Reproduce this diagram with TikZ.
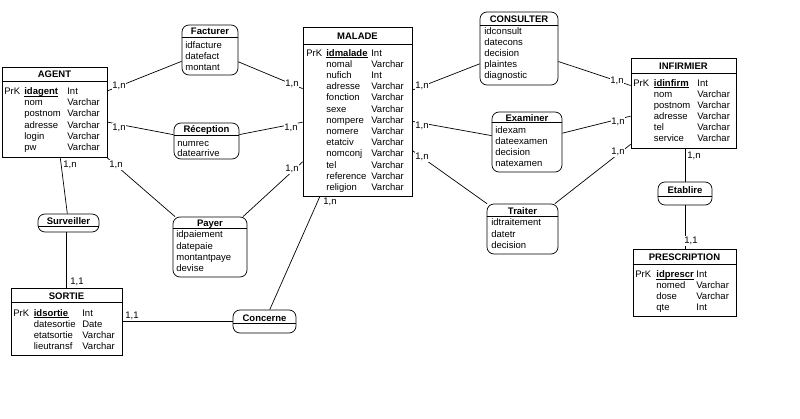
\documentclass[tikz,border=0pt]{standalone}
\usepackage{fontspec}
\setmainfont{Liberation Sans}

\tikzset{
  entity/.style={draw, rectangle, inner sep=0pt},
  assoc/.style={draw, rectangle, rounded corners=7pt, inner sep=0pt},
  head/.style={inner sep=0pt, text height=7pt, text depth=0pt, font=\fontsize{9.5}{11}\selectfont\bfseries},
  attr/.style={anchor=base west, inner sep=0pt, font=\fontsize{9.5}{11}\selectfont},
  key/.style={attr, font=\fontsize{9.5}{11}\selectfont\bfseries},
  card/.style={fill=white, inner sep=0.8pt, font=\fontsize{9.5}{11}\selectfont}
}

\begin{document}
\begin{tikzpicture}[x=1pt, y=-1pt, line width=0.7pt]
    \useasboundingbox (0,0) rectangle (800,419);
    % Entity AGENT
    \node[entity, minimum width=105pt, minimum height=90pt] (agent) at (54.5,112) {};
    \node[head] (agentT) at (54.5,74.5) {AGENT};
    \draw ([yshift=-15pt]agent.north west) -- ([yshift=-15pt]agent.north east);
    \node[attr] (agentP) at (4,94.5) {PrK};
    \node[key] (agentK) at (24,94.5) {idagent};
    \draw ([yshift=-1.5pt]agentK.base west) -- ([yshift=-1.5pt]agentK.base east);
    \node[attr] (agentKt) at (67,94.5) {Int};
    \foreach \nm/\ty [count=\i] in {nom/Varchar, postnom/Varchar, adresse/Varchar, login/Varchar, pw/Varchar} {
        \node[attr] (agentA\i) at (24,{94.5+11.2*\i}) {\nm};
        \node[attr] (agentB\i) at (67,{94.5+11.2*\i}) {\ty};
    }
    % Entity MALADE
    \node[entity, minimum width=109pt, minimum height=169pt] (malade) at (357.5,111.5) {};
    \node[head] (maladeT) at (357.5,36) {MALADE};
    \draw ([yshift=-18pt]malade.north west) -- ([yshift=-18pt]malade.north east);
    \node[attr] (maladeP) at (306,56.2) {PrK};
    \node[key] (maladeK) at (326,56.2) {idmalade};
    \draw ([yshift=-1.5pt]maladeK.base west) -- ([yshift=-1.5pt]maladeK.base east);
    \node[attr] (maladeKt) at (371,56.2) {Int};
    \foreach \nm/\ty [count=\i] in {nomal/Varchar, nufich/Int, adresse/Varchar, fonction/Varchar, sexe/Varchar, nompere/Varchar, nomere/Varchar, etatciv/Varchar, nomconj/Varchar, tel/Varchar, reference/Varchar, religion/Varchar} {
        \node[attr] (maladeA\i) at (326,{56.2+11.2*\i}) {\nm};
        \node[attr] (maladeB\i) at (371,{56.2+11.2*\i}) {\ty};
    }
    % Entity INFIRMIER
    \node[entity, minimum width=105pt, minimum height=90pt] (infirmier) at (683.5,103) {};
    \node[head] (infirmierT) at (683.5,66) {INFIRMIER};
    \draw ([yshift=-16pt]infirmier.north west) -- ([yshift=-16pt]infirmier.north east);
    \node[attr] (infirmierP) at (633,86.2) {PrK};
    \node[key] (infirmierK) at (653.5,86.2) {idinfirm};
    \draw ([yshift=-1.5pt]infirmierK.base west) -- ([yshift=-1.5pt]infirmierK.base east);
    \node[attr] (infirmierKt) at (697,86.2) {Int};
    \foreach \nm/\ty [count=\i] in {nom/Varchar, postnom/Varchar, adresse/Varchar, tel/Varchar, service/Varchar} {
        \node[attr] (infirmierA\i) at (653.5,{86.2+11.1*\i}) {\nm};
        \node[attr] (infirmierB\i) at (697,{86.2+11.1*\i}) {\ty};
    }
    % Entity PRESCRIPTION
    \node[entity, minimum width=103pt, minimum height=67pt] (prescription) at (684.5,282.5) {};
    \node[head] (prescriptionT) at (684.5,257.5) {PRESCRIPTION};
    \draw ([yshift=-16pt]prescription.north west) -- ([yshift=-16pt]prescription.north east);
    \node[attr] (prescriptionP) at (635,277.5) {PrK};
    \node[key] (prescriptionK) at (656,277.5) {idprescr};
    \draw ([yshift=-1.5pt]prescriptionK.base west) -- ([yshift=-1.5pt]prescriptionK.base east);
    \node[attr] (prescriptionKt) at (696,277.5) {Int};
    \foreach \nm/\ty [count=\i] in {nomed/Varchar, dose/Varchar, qte/Int} {
        \node[attr] (prescriptionA\i) at (656,{277.5+11*\i}) {\nm};
        \node[attr] (prescriptionB\i) at (696,{277.5+11*\i}) {\ty};
    }
    % Entity SORTIE
    \node[entity, minimum width=111pt, minimum height=67pt] (sortie) at (66.5,321.5) {};
    \node[head] (sortieT) at (66.5,296) {SORTIE};
    \draw ([yshift=-15pt]sortie.north west) -- ([yshift=-15pt]sortie.north east);
    \node[attr] (sortieP) at (13,316.2) {PrK};
    \node[key] (sortieK) at (33.5,316.2) {idsortie};
    \draw ([yshift=-1.5pt]sortieK.base west) -- ([yshift=-1.5pt]sortieK.base east);
    \node[attr] (sortieKt) at (82,316.2) {Int};
    \foreach \nm/\ty [count=\i] in {datesortie/Date, etatsortie/Varchar, lieutransf/Varchar} {
        \node[attr] (sortieA\i) at (33.5,{316.2+11*\i}) {\nm};
        \node[attr] (sortieB\i) at (82,{316.2+11*\i}) {\ty};
    }

    % Associations
    \node[assoc, minimum width=56pt, minimum height=50pt] (facturer) at (210,50) {};
    \node[head] (facturerT) at (210,31.5) {Facturer};
    \draw ([yshift=-13pt]facturer.north west) -- ([yshift=-13pt]facturer.north east);
    \foreach \nm [count=\i from 0] in {idfacture, datefact, montant}
        \node[attr] (facturerA\i) at (185,{48.5+10.8*\i}) {\nm};

    \node[assoc, minimum width=65pt, minimum height=36pt] (reception) at (206.5,141) {};
    \node[head] (receptionT) at (206.5,129.5) {Réception};
    \draw ([yshift=-13pt]reception.north west) -- ([yshift=-13pt]reception.north east);
    \foreach \nm [count=\i from 0] in {numrec, datearrive}
        \node[attr] (receptionA\i) at (177,{146.2+10.3*\i}) {\nm};

    \node[assoc, minimum width=74pt, minimum height=60pt] (payer) at (210,247) {};
    \node[head] (payerT) at (210,223) {Payer};
    \draw ([yshift=-12pt]payer.north west) -- ([yshift=-12pt]payer.north east);
    \foreach \nm [count=\i from 0] in {idpaiement, datepaie, montantpaye, devise}
        \node[attr] (payerA\i) at (176,{237.8+11.4*\i}) {\nm};

    \node[assoc, minimum width=61pt, minimum height=18pt] (surveiller) at (68.5,223) {};
    \node[head] (surveillerT) at (68.5,221) {Surveiller};
    \draw ([yshift=-13pt]surveiller.north west) -- ([yshift=-13pt]surveiller.north east);

    \node[assoc, minimum width=63pt, minimum height=23pt] (concerne) at (264.5,321.5) {};
    \node[head] (concerneT) at (264.5,318) {Concerne};
    \draw ([yshift=-14pt]concerne.north west) -- ([yshift=-14pt]concerne.north east);

    \node[assoc, minimum width=78pt, minimum height=73pt] (consulter) at (519,48.5) {};
    \node[head] (consulterT) at (519,19) {CONSULTER};
    \draw ([yshift=-14pt]consulter.north west) -- ([yshift=-14pt]consulter.north east);
    \foreach \nm [count=\i from 0] in {idconsult, datecons, decision, plaintes, diagnostic}
        \node[attr] (consulterA\i) at (484,{34.5+11*\i}) {\nm};

    \node[assoc, minimum width=70pt, minimum height=60pt] (examiner) at (527,142) {};
    \node[head] (examinerT) at (527,118) {Examiner};
    \draw ([yshift=-11pt]examiner.north west) -- ([yshift=-11pt]examiner.north east);
    \foreach \nm [count=\i from 0] in {idexam, dateexamen, decision, natexamen}
        \node[attr] (examinerA\i) at (495,{133.8+11*\i}) {\nm};

    \node[assoc, minimum width=71pt, minimum height=50pt] (traiter) at (522.5,229) {};
    \node[head] (traiterT) at (522.5,211) {Traiter};
    \draw ([yshift=-13pt]traiter.north west) -- ([yshift=-13pt]traiter.north east);
    \foreach \nm [count=\i from 0] in {idtraitement, datetr, decision}
        \node[attr] (traiterA\i) at (491,{226+11.5*\i}) {\nm};

    \node[assoc, minimum width=54pt, minimum height=23pt] (etablire) at (685,193.5) {};
    \node[head] (etablireT) at (685,190) {Etablire};
    \draw ([yshift=-15pt]etablire.north west) -- ([yshift=-15pt]etablire.north east);

    % Links
    \draw (agent) -- (facturer);
    \draw (facturer) -- (malade);
    \draw (agent) -- (reception);
    \draw (reception) -- (malade);
    \draw (agent) -- (payer);
    \draw (payer) -- (malade);
    \draw (agent) -- (surveiller);
    \draw (surveiller.south -| sortie.north) -- (sortie.north);
    \draw (sortie) -- (concerne);
    \draw (concerne) -- (malade);
    \draw (malade) -- (consulter);
    \draw (consulter) -- (infirmier);
    \draw (malade) -- (examiner);
    \draw (examiner) -- (infirmier);
    \draw (malade) -- (traiter);
    \draw (traiter) -- (infirmier);
    \draw (infirmier.south -| etablire.north) -- (etablire.north);
    \draw (etablire.south) -- (etablire.south |- prescription.north);

    % Cardinalities
    \node[card] (c1) at (119,86) {1,n};
    \node[card] (c2) at (292,84) {1,n};
    \node[card] (c3) at (119,128) {1,n};
    \node[card] (c4) at (291,128) {1,n};
    \node[card] (c5) at (116,165) {1,n};
    \node[card] (c6) at (292,169) {1,n};
    \node[card] (c7) at (70,165) {1,n};
    \node[card] (c8) at (77,282) {1,1};
    \node[card] (c9) at (132,315.5) {1,1};
    \node[card] (c10) at (330,202) {1,n};
    \node[card] (c11) at (422,86) {1,n};
    \node[card] (c12) at (617,81) {1,n};
    \node[card] (c13) at (422,126) {1,n};
    \node[card] (c14) at (618,122) {1,n};
    \node[card] (c15) at (422,157) {1,n};
    \node[card] (c16) at (618,152) {1,n};
    \node[card] (c17) at (694,156) {1,n};
    \node[card] (c18) at (691,241) {1,1};
\end{tikzpicture}
\end{document}
